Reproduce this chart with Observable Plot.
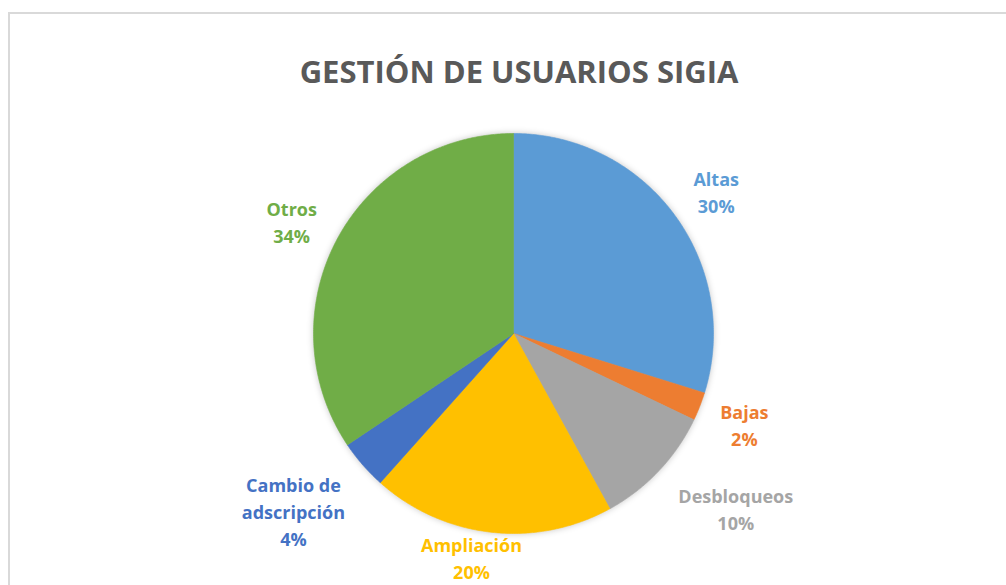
<!DOCTYPE html>
<html>
<head>
<meta charset="utf-8">
<script src="https://cdn.jsdelivr.net/npm/d3@7"></script>
<script src="https://cdn.jsdelivr.net/npm/@observablehq/plot@0.6"></script>
<style>
  html, body { margin: 0; padding: 0; background: #ffffff; overflow: hidden; }
  #wrap { position: relative; width: 1006px; height: 585px; }
  #frame { position: absolute; left: 8px; top: 12px; width: 1100px; height: 700px;
           border-left: 2px solid #d9d9d9; border-top: 2px solid #d9d9d9; pointer-events: none; }
  #title { position: absolute; left: 16px; top: 56px; width: 1006px; text-align: center;
           font-family: "Open Sans", sans-serif; font-weight: 700; font-size: 31px; line-height: 31px;
           color: #595959; }
  .pie g[aria-label="line"] { filter: drop-shadow(0 0 3px rgba(0,0,0,0.22)); }
</style>
</head>
<body>
<div id="wrap">
  <div id="chart"></div>
  <div id="title">GESTIÓN DE USUARIOS SIGIA</div>
  <div id="frame"></div>
</div>
<script>
// ---- data ----
const categories = ["Altas", "Bajas", "Desbloqueos", "Ampliación", "Cambio de adscripción", "Otros"];
const values = [29.8, 2.3, 9.9, 19.6, 4.0, 34.4];
const labelNames = ["Altas", "Bajas", "Desbloqueos", "Ampliación", "Cambio de\nadscripción", "Otros"];
const colors = ["#5B9BD5", "#ED7D31", "#A5A5A5", "#FFC000", "#4472C4", "#70AD47"];

// ---- layout ----
const W = 1006, H = 585;
const R = 200;            // pie radius in px
const cx = 513, cy = 333; // pie centre in px
const labelRadius = 1.24; // relative to pie radius
const labelNudge = [[3, -4], [0, 0], [42, -4], [-14, 23], [-33, -14], [-3, -4]]; // px (x right, y up)

const total = d3.sum(values);
const arcs = d3.pie().sort(null).value(d => d)(values);

const pts = [];
arcs.forEach((a, i) => {
  const cat = categories[i];
  pts.push({cat, x: 0, y: 0});
  const n = Math.max(2, Math.ceil((a.endAngle - a.startAngle) / (Math.PI / 360)));
  for (let k = 0; k <= n; k++) {
    const t = a.startAngle + (a.endAngle - a.startAngle) * k / n;
    pts.push({cat, x: Math.sin(t), y: Math.cos(t)});
  }
  pts.push({cat, x: 0, y: 0});
});

const labels = arcs.map((a, i) => {
  const m = (a.startAngle + a.endAngle) / 2;
  return {
    cat: categories[i],
    x: labelRadius * Math.sin(m) + labelNudge[i][0] / R,
    y: labelRadius * Math.cos(m) + labelNudge[i][1] / R,
    text: labelNames[i] + "\n" + Math.round(values[i] / total * 100) + "%"
  };
});

const chart = Plot.plot({
  width: W, height: H, margin: 0,
  className: "pie",
  style: {background: "transparent", fontFamily: "'Open Sans', sans-serif"},
  x: {domain: [-cx / R, (W - cx) / R], axis: null},
  y: {domain: [-(H - cy) / R, cy / R], axis: null},
  color: {domain: categories, range: colors},
  marks: [
    Plot.line(pts, {x: "x", y: "y", z: "cat", fill: "cat", stroke: "cat", strokeWidth: 0.6, curve: "linear"}),
    Plot.text(labels, {x: "x", y: "y", text: "text", fill: "cat", fontSize: 18, fontWeight: "bold",
      lineHeight: 1.5, lineAnchor: "middle", textAnchor: "middle"})
  ]
});
document.getElementById("chart").appendChild(chart);
</script>
</body>
</html>
